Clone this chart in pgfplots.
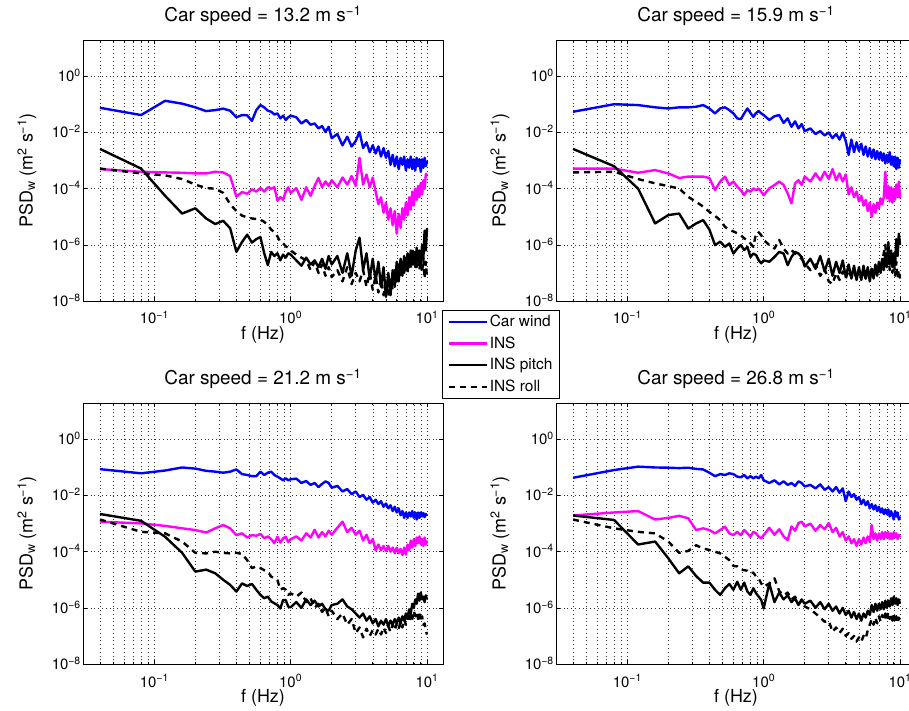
\documentclass[border=0pt]{standalone}
\usepackage{fontspec}
\setmainfont{TeX Gyre Heros}
\usepackage{pgfplots}
\usepackage{pgfplotstable}
\pgfplotsset{compat=1.18}
\definecolor{mblue}{rgb}{0,0,1}
\definecolor{mmag}{rgb}{1,0,1}

\pgfplotstableread{
f w i p r
0.04 7.6e-2 5.0e-4 2.6e-3 5.2e-4
0.08 4.2e-2 4.0e-4 5.2e-4 3.5e-4
0.12 1.35e-1 3.8e-4 5.6e-5 3.0e-4
0.16 1.07e-1 3.7e-4 1.3e-5 2.2e-4
0.20 7.9e-2 3.5e-4 2.0e-5 1.4e-4
0.24 5.8e-2 3.5e-4 8.7e-6 1.05e-4
0.28 6.3e-2 4.0e-4 5.5e-6 1.0e-4
0.32 7.1e-2 3.8e-4 7.2e-6 7.1e-5
0.36 6.0e-2 2.8e-4 3.9e-6 2.8e-5
0.40 3.5e-2 5.2e-5 5.6e-7 1.6e-5
0.44 4.2e-2 7.6e-5 1.26e-6 1.1e-5
0.48 4.1e-2 6.6e-5 2.3e-6 9.5e-6
0.52 2.6e-2 9.5e-5 1.2e-6 8.7e-6
0.56 6.3e-2 7.9e-5 1.6e-6 8.3e-6
0.60 9.5e-2 1.05e-4 1.9e-6 7.9e-6
0.64 7.9e-2 7.9e-5 5.0e-7 6.6e-6
0.68 6.0e-2 1.12e-4 1.9e-7 5.0e-6
0.72 5.5e-2 1.0e-4 5.6e-7 3.5e-6
0.76 4.4e-2 1.12e-4 4.0e-7 2.8e-6
0.80 4.8e-2 3.8e-5 5.0e-7 2.0e-6
0.84 3.2e-2 5.0e-5 2.8e-7 1.26e-6
0.88 4.0e-2 4.0e-5 4.5e-7 1.12e-6
0.92 2.8e-2 7.9e-5 3.5e-7 8.9e-7
0.96 3.5e-2 1.12e-4 5.0e-7 7.9e-7
1.00 4.0e-2 7.1e-5 4.5e-7 6.3e-7
1.1 3.5e-2 1.05e-4 2.8e-7 4.5e-7
1.2 2.1e-2 4.0e-5 1.8e-7 3.5e-7
1.3 2.8e-2 1.12e-4 3.5e-7 2.8e-7
1.4 1.9e-2 5.6e-5 2.0e-7 1.26e-7
1.5 2.1e-2 1.26e-4 2.8e-7 2.5e-7
1.6 1.4e-2 2.4e-4 1.6e-7 1.0e-7
1.7 1.7e-2 1.12e-4 3.2e-7 2.0e-7
1.8 1.05e-2 1.8e-4 1.4e-7 7.9e-8
1.9 1.6e-2 1.26e-4 4.0e-7 1.6e-7
2.0 6.3e-3 2.0e-4 2.0e-7 7.1e-8
2.2 8.9e-3 1.12e-4 4.0e-7 1.26e-7
2.4 3.5e-3 2.5e-4 1.0e-7 5.0e-8
2.6 7.1e-3 1.4e-4 5.0e-7 1.6e-7
2.8 3.2e-3 2.8e-4 7.9e-8 4.0e-8
3.0 5.0e-3 1.26e-4 6.3e-7 1.0e-7
3.2 1.05e-2 1.26e-3 1.8e-6 5.0e-8
3.4 2.8e-3 1.4e-4 1.26e-7 1.26e-7
3.6 4.5e-3 3.2e-4 5.0e-7 3.2e-8
3.8 2.0e-3 1.12e-4 6.3e-8 1.0e-7
4.0 3.5e-3 2.5e-4 3.2e-7 2.5e-8
4.2 1.8e-3 7.9e-5 5.0e-8 7.9e-8
4.4 3.2e-3 2.8e-5 2.5e-7 2.0e-8
4.6 1.4e-3 5.0e-5 3.2e-8 6.3e-8
4.8 2.8e-3 1.4e-5 1.6e-7 1.6e-8
5.0 1.26e-3 3.2e-5 1.4e-8 5.0e-8
5.2 2.2e-3 7.9e-6 1.0e-7 1.4e-8
5.4 7.1e-4 2.0e-5 1.6e-8 6.3e-8
5.6 1.6e-3 5.0e-6 1.26e-7 2.5e-8
5.8 6.3e-4 1.6e-5 3.2e-8 1.26e-7
6.0 1.4e-3 2.5e-6 2.5e-7 4.0e-8
6.2 5.0e-4 1.26e-5 5.0e-8 2.0e-7
6.4 1.26e-3 4.0e-6 3.2e-7 6.3e-8
6.6 7.1e-4 2.0e-5 7.9e-8 2.5e-7
6.8 1.4e-3 7.9e-6 4.0e-7 1.0e-7
7.0 4.5e-4 3.2e-5 1.26e-7 3.2e-7
7.2 1.12e-3 1.12e-5 5.0e-7 1.0e-7
7.4 5.6e-4 5.0e-5 1.6e-7 4.0e-7
7.6 1.4e-3 1.8e-5 6.3e-7 1.26e-7
7.8 5.0e-4 7.9e-5 2.0e-7 7.9e-7
8.0 1.12e-3 2.5e-5 5.0e-7 2.0e-7
8.2 4.5e-4 1.0e-4 1.6e-7 6.3e-7
8.4 1.26e-3 4.0e-5 7.9e-7 1.6e-7
8.6 6.3e-4 1.26e-4 2.5e-7 5.0e-7
8.8 1.12e-3 5.0e-5 6.3e-7 1.26e-7
9.0 4.0e-4 1.6e-4 2.0e-7 4.0e-7
9.2 1.12e-3 6.3e-5 1.0e-6 1.0e-7
9.4 5.6e-4 2.0e-4 3.2e-7 3.2e-7
9.6 1.26e-3 1.0e-4 3.2e-6 6.3e-8
9.8 6.3e-4 3.2e-4 6.3e-7 2.5e-7
10.0 1.0e-3 3.5e-4 4.0e-6 6.3e-8
}\tabTL

\pgfplotstableread{
f w i p r
0.04 5.5e-2 5.2e-4 2.6e-3 3.8e-4
0.08 1.02e-1 5.2e-4 6.3e-4 4.0e-4
0.12 9.5e-2 3.7e-4 1.0e-4 2.2e-4
0.16 7.9e-2 4.6e-4 5.8e-6 1.55e-4
0.20 7.2e-2 3.5e-4 1.15e-5 1.23e-4
0.24 7.9e-2 2.4e-4 1.3e-5 1.02e-4
0.28 7.9e-2 2.7e-4 3.8e-6 5.1e-5
0.32 8.3e-2 2.7e-4 5.8e-6 3.4e-5
0.36 9.5e-2 2.7e-4 7.6e-6 2.3e-5
0.40 7.2e-2 2.4e-4 3.5e-6 1.5e-5
0.44 4.8e-2 8.9e-5 9.8e-7 1.07e-5
0.48 7.2e-2 1.8e-4 1.3e-6 7.6e-6
0.52 7.9e-2 2.7e-4 8.5e-7 4.4e-6
0.56 6.3e-2 1.35e-4 1.12e-6 3.4e-6
0.60 4.8e-2 1.8e-4 4.9e-7 3.0e-6
0.64 3.2e-2 1.17e-4 7.4e-7 2.6e-6
0.68 3.0e-2 8.9e-5 9.8e-7 2.2e-6
0.72 4.8e-2 5.9e-5 6.5e-7 1.7e-6
0.76 7.2e-2 8.9e-5 8.5e-7 1.5e-6
0.80 5.0e-2 7.8e-5 3.7e-7 1.12e-6
0.84 3.6e-2 1.02e-4 4.9e-7 8.5e-7
0.88 5.0e-2 8.9e-5 4.3e-7 2.6e-6
0.92 5.8e-2 1.02e-4 2.8e-7 2.8e-6
0.96 4.8e-2 7.8e-5 2.2e-7 2.2e-6
1.00 4.2e-2 5.9e-5 2.8e-7 1.5e-6
1.1 2.8e-2 1.02e-4 2.5e-7 9.8e-7
1.2 3.8e-2 1.35e-4 3.7e-7 7.4e-7
1.3 4.2e-2 1.8e-4 5.6e-7 1.5e-6
1.4 2.2e-2 1.35e-4 4.9e-7 7.4e-7
1.5 3.2e-2 6.8e-5 1.9e-7 4.9e-7
1.6 1.6e-2 3.0e-5 3.7e-7 6.5e-7
1.7 2.5e-2 1.55e-4 5.6e-7 4.9e-7
1.8 1.4e-2 2.0e-4 4.9e-7 3.7e-7
1.9 2.0e-2 1.35e-4 3.7e-7 3.2e-7
2.0 1.12e-2 2.7e-4 1.7e-7 2.2e-7
2.2 1.4e-2 1.8e-4 3.2e-7 1.26e-7
2.4 8.9e-3 3.5e-4 1.4e-7 2.0e-7
2.6 1.12e-2 2.0e-4 4.0e-7 7.9e-8
2.8 7.9e-3 4.0e-4 1.12e-7 1.4e-7
3.0 1.0e-2 2.2e-4 3.2e-7 5.0e-8
3.2 6.3e-3 5.0e-4 7.9e-8 4.0e-8
3.4 8.9e-3 2.0e-4 2.5e-7 1.0e-7
3.6 5.6e-3 3.5e-4 1.0e-7 5.6e-8
3.8 1.0e-2 1.8e-4 2.8e-7 1.12e-7
4.0 5.0e-3 3.2e-4 7.1e-8 6.3e-8
4.2 1.6e-3 6.3e-5 2.0e-7 1.26e-7
4.4 5.6e-3 1.12e-4 6.3e-8 7.1e-8
4.6 2.0e-3 5.0e-5 1.8e-7 1.12e-7
4.8 4.5e-3 7.9e-5 5.6e-8 6.3e-8
5.0 2.2e-3 3.5e-5 1.6e-7 1.26e-7
5.2 4.0e-3 5.6e-5 5.6e-8 7.1e-8
5.4 1.6e-3 2.5e-5 1.8e-7 1.12e-7
5.6 3.2e-3 4.0e-5 6.3e-8 6.3e-8
5.8 1.4e-3 1.6e-5 1.6e-7 1.26e-7
6.0 2.8e-3 3.2e-5 5.0e-8 7.9e-8
6.2 1.26e-3 1.0e-5 1.4e-7 1.4e-7
6.4 2.5e-3 2.8e-5 6.3e-8 8.9e-8
6.6 1.12e-3 1.4e-5 2.0e-7 1.6e-7
6.8 2.2e-3 3.2e-5 7.9e-8 1.0e-7
7.0 1.12e-3 2.0e-5 2.5e-7 2.0e-7
7.2 2.0e-3 4.5e-5 1.0e-7 1.12e-7
7.4 1.0e-3 2.8e-5 3.2e-7 2.5e-7
7.6 1.8e-3 5.0e-5 1.26e-7 5.0e-7
7.8 7.9e-4 4.0e-4 5.0e-7 1.0e-6
8.0 1.6e-3 4.5e-5 1.6e-7 2.5e-7
8.2 8.9e-4 1.26e-4 1.26e-6 6.3e-7
8.4 2.0e-3 3.5e-5 2.0e-7 1.26e-7
8.6 7.1e-4 1.12e-4 6.3e-7 4.0e-7
8.8 1.4e-3 3.2e-5 1.6e-7 1.0e-7
9.0 6.3e-4 1.0e-4 5.0e-7 3.2e-7
9.2 1.4e-3 4.0e-5 2.0e-7 7.9e-8
9.4 5.0e-4 1.4e-4 1.6e-6 2.5e-7
9.6 1.26e-3 5.0e-5 4.0e-7 6.3e-8
9.8 5.6e-4 1.8e-4 2.5e-6 1.26e-7
10.0 1.12e-3 4.5e-5 1.0e-6 6.3e-8
}\tabTR

\pgfplotstableread{
f w i p r
0.04 8.7e-2 1.17e-3 2.2e-3 1.4e-3
0.08 6.2e-2 1.02e-3 1.26e-3 5.1e-4
0.12 7.8e-2 8.3e-4 3.4e-4 4.5e-4
0.16 1.0e-1 6.8e-4 9.1e-5 2.3e-4
0.20 9.1e-2 5.9e-4 1.95e-5 9.1e-5
0.24 7.6e-2 4.8e-4 2.3e-5 8.7e-5
0.28 7.1e-2 6.8e-4 1.7e-5 1.0e-4
0.32 6.5e-2 8.9e-4 1.0e-5 9.1e-5
0.36 7.1e-2 6.8e-4 6.6e-6 8.7e-5
0.40 8.5e-2 3.9e-4 3.8e-6 9.1e-5
0.44 5.8e-2 4.5e-4 7.4e-6 8.3e-5
0.48 5.4e-2 3.2e-4 6.0e-6 5.0e-5
0.52 4.9e-2 3.9e-4 7.1e-6 2.6e-5
0.56 4.9e-2 3.7e-4 4.4e-6 3.0e-5
0.60 7.1e-2 4.3e-4 2.9e-6 2.6e-5
0.64 5.4e-2 3.0e-4 2.2e-6 2.2e-5
0.68 6.5e-2 3.5e-4 2.5e-6 1.95e-5
0.72 7.1e-2 2.8e-4 1.7e-6 1.3e-5
0.76 5.4e-2 2.0e-4 1.45e-6 1.12e-5
0.80 4.7e-2 3.4e-4 1.26e-6 9.8e-6
0.84 4.1e-2 2.1e-4 9.5e-7 4.4e-6
0.88 3.5e-2 3.0e-4 1.9e-6 5.0e-6
0.92 4.1e-2 3.4e-4 1.9e-6 4.4e-6
0.96 3.5e-2 2.2e-4 1.1e-6 2.9e-6
1.00 3.8e-2 2.8e-4 1.05e-6 3.3e-6
1.1 4.0e-2 3.5e-4 1.6e-6 2.5e-6
1.2 2.8e-2 2.5e-4 1.0e-6 3.5e-6
1.3 3.3e-2 4.5e-4 2.0e-6 1.6e-6
1.4 2.4e-2 3.2e-4 1.26e-6 2.2e-6
1.5 2.8e-2 6.0e-4 1.8e-6 1.0e-6
1.6 2.0e-2 3.2e-4 1.12e-6 1.4e-6
1.7 2.6e-2 5.0e-4 1.4e-6 7.1e-7
1.8 3.2e-2 3.5e-4 8.9e-7 1.0e-6
1.9 2.8e-2 5.6e-4 7.9e-7 5.0e-7
2.0 1.9e-2 4.0e-4 1.26e-6 7.9e-7
2.2 2.2e-2 7.1e-4 1.4e-6 4.0e-7
2.4 1.4e-2 1.17e-3 2.0e-6 6.3e-7
2.6 1.7e-2 5.0e-4 1.12e-6 2.5e-7
2.8 1.12e-2 7.1e-4 8.9e-7 4.0e-7
3.0 1.4e-2 4.0e-4 6.3e-7 1.26e-7
3.2 8.9e-3 5.6e-4 4.5e-7 2.0e-7
3.4 1.05e-2 2.5e-4 6.3e-7 8.9e-8
3.6 7.1e-3 4.0e-4 3.5e-7 1.8e-7
3.8 8.9e-3 2.0e-4 5.0e-7 1.0e-7
4.0 5.6e-3 2.8e-4 2.8e-7 1.6e-7
4.2 7.1e-3 1.12e-4 4.0e-7 1.12e-7
4.4 5.0e-3 1.8e-4 2.2e-7 1.8e-7
4.6 6.3e-3 1.12e-4 3.5e-7 1.12e-7
4.8 4.0e-3 1.6e-4 2.5e-7 2.0e-7
5.0 5.2e-3 1.05e-4 4.0e-7 1.26e-7
5.2 3.5e-3 1.6e-4 2.2e-7 2.2e-7
5.4 4.5e-3 1.0e-4 3.5e-7 1.4e-7
5.6 2.8e-3 1.4e-4 2.5e-7 2.5e-7
5.8 4.0e-3 8.9e-5 4.0e-7 1.6e-7
6.0 2.5e-3 1.4e-4 2.8e-7 2.8e-7
6.2 3.5e-3 8.9e-5 4.5e-7 1.8e-7
6.4 2.0e-3 1.26e-4 2.8e-7 3.2e-7
6.6 2.8e-3 7.6e-5 5.0e-7 2.0e-7
6.8 1.6e-3 1.4e-4 3.5e-7 4.0e-7
7.0 2.5e-3 7.9e-5 6.3e-7 2.5e-7
7.2 1.6e-3 1.8e-4 4.5e-7 5.0e-7
7.4 2.5e-3 1.12e-4 8.9e-7 3.2e-7
7.6 1.8e-3 2.5e-4 6.3e-7 6.3e-7
7.8 2.8e-3 1.4e-4 1.4e-6 4.0e-7
8.0 1.6e-3 2.8e-4 1.0e-6 7.9e-7
8.2 2.5e-3 1.6e-4 2.0e-6 5.0e-7
8.4 1.4e-3 3.2e-4 1.4e-6 7.1e-7
8.6 2.5e-3 2.0e-4 3.2e-6 4.0e-7
8.8 1.6e-3 3.5e-4 1.8e-6 6.3e-7
9.0 2.5e-3 1.8e-4 3.5e-6 3.2e-7
9.2 1.8e-3 2.8e-4 2.0e-6 5.0e-7
9.4 2.4e-3 1.6e-4 2.5e-6 2.5e-7
9.6 1.7e-3 3.2e-4 1.6e-6 2.8e-7
9.8 2.2e-3 1.8e-4 2.8e-6 1.6e-7
10.0 1.9e-3 2.5e-4 2.0e-6 1.12e-7
}\tabBL

\pgfplotstableread{
f w i p r
0.04 4.3e-2 1.95e-3 1.95e-3 1.4e-3
0.08 8.1e-2 2.5e-3 1.35e-3 6.8e-4
0.12 1.07e-1 2.8e-3 1.8e-4 5.1e-4
0.16 1.0e-1 1.4e-3 2.3e-4 4.5e-4
0.20 9.8e-2 1.6e-3 5.8e-5 2.3e-4
0.24 9.5e-2 1.9e-3 1.7e-5 9.1e-5
0.28 9.8e-2 1.55e-3 3.0e-5 1.07e-4
0.32 8.9e-2 5.9e-4 1.35e-5 1.7e-4
0.36 8.5e-2 6.8e-4 7.9e-6 1.3e-4
0.40 6.5e-2 5.9e-4 7.9e-6 1.15e-4
0.44 4.9e-2 4.5e-4 4.4e-6 1.0e-4
0.48 5.8e-2 5.9e-4 2.9e-6 8.7e-5
0.52 5.4e-2 7.8e-4 5.0e-6 6.6e-5
0.56 6.2e-2 4.5e-4 7.1e-6 5.0e-5
0.60 5.8e-2 3.9e-4 4.4e-6 3.1e-5
0.64 4.7e-2 5.1e-4 8.5e-6 3.0e-5
0.68 4.5e-2 3.9e-4 4.4e-6 2.3e-5
0.72 5.4e-2 5.9e-4 7.9e-6 2.2e-5
0.76 4.1e-2 4.5e-4 3.8e-6 2.1e-5
0.80 4.9e-2 3.4e-4 2.9e-6 1.7e-5
0.84 4.1e-2 5.1e-4 5.0e-6 1.8e-5
0.88 4.7e-2 4.5e-4 3.3e-6 1.3e-5
0.92 4.1e-2 3.4e-4 2.5e-6 1.12e-5
0.96 5.4e-2 3.0e-4 1.9e-6 7.4e-6
1.00 3.5e-2 3.9e-4 9.5e-7 5.6e-6
1.1 2.8e-2 7.1e-4 7.4e-6 7.4e-6
1.2 3.5e-2 4.0e-4 1.6e-6 1.12e-5
1.3 2.5e-2 6.3e-4 3.5e-6 4.0e-6
1.4 3.2e-2 3.5e-4 2.0e-6 2.8e-6
1.5 2.4e-2 2.6e-4 2.8e-6 3.5e-6
1.6 2.8e-2 7.9e-4 1.6e-6 2.0e-6
1.7 2.2e-2 5.6e-4 2.2e-6 2.5e-6
1.8 3.2e-2 1.05e-3 1.26e-6 1.4e-6
1.9 2.8e-2 1.17e-3 2.0e-6 1.8e-6
2.0 2.1e-2 7.9e-4 1.4e-6 1.12e-6
2.2 2.4e-2 1.0e-3 1.8e-6 8.9e-7
2.4 1.8e-2 5.6e-4 1.0e-6 6.3e-7
2.6 2.5e-2 8.9e-4 1.6e-6 4.5e-7
2.8 1.6e-2 6.3e-4 8.9e-7 3.2e-7
3.0 2.0e-2 1.05e-3 1.4e-6 3.5e-7
3.2 1.4e-2 5.0e-4 7.9e-7 1.4e-7
3.4 2.0e-2 7.1e-4 1.12e-6 2.0e-7
3.6 1.26e-2 3.5e-4 6.3e-7 1.26e-7
3.8 1.8e-2 5.0e-4 1.0e-6 1.8e-7
4.0 6.3e-3 2.5e-4 5.6e-7 1.0e-7
4.2 1.4e-2 3.5e-4 7.9e-7 1.26e-7
4.4 8.9e-3 2.0e-4 4.5e-7 7.9e-8
4.6 1.12e-2 2.8e-4 7.1e-7 1.0e-7
4.8 7.1e-3 1.6e-4 4.0e-7 6.3e-8
5.0 8.9e-3 2.8e-4 6.3e-7 8.9e-8
5.2 5.0e-3 1.8e-4 3.5e-7 6.3e-8
5.4 7.1e-3 3.2e-4 6.3e-7 1.0e-7
5.6 4.5e-3 2.0e-4 4.5e-7 7.9e-8
5.8 6.3e-3 3.5e-4 7.9e-7 1.6e-7
6.0 3.5e-3 2.2e-4 5.6e-7 2.5e-7
6.2 5.0e-3 8.9e-4 1.26e-6 4.0e-7
6.4 3.2e-3 2.8e-4 7.1e-7 2.5e-7
6.6 4.5e-3 4.5e-4 1.4e-6 4.5e-7
6.8 2.8e-3 2.5e-4 7.9e-7 2.8e-7
7.0 4.0e-3 4.5e-4 1.4e-6 5.0e-7
7.2 2.5e-3 2.8e-4 8.9e-7 3.2e-7
7.4 3.5e-3 5.0e-4 1.6e-6 5.6e-7
7.6 2.2e-3 2.8e-4 8.9e-7 3.5e-7
7.8 3.2e-3 5.0e-4 1.8e-6 6.3e-7
8.0 2.2e-3 3.2e-4 1.0e-6 4.0e-7
8.2 3.2e-3 5.0e-4 1.8e-6 7.1e-7
8.4 1.8e-3 2.8e-4 1.12e-6 4.0e-7
8.6 2.8e-3 4.5e-4 2.2e-6 6.3e-7
8.8 2.0e-3 2.8e-4 1.26e-6 3.5e-7
9.0 1.4e-3 5.0e-4 2.5e-6 5.6e-7
9.2 2.8e-3 3.2e-4 1.4e-6 3.2e-7
9.4 1.8e-3 4.5e-4 2.2e-6 5.0e-7
9.6 2.5e-3 2.8e-4 1.26e-6 2.8e-7
9.8 1.4e-3 4.0e-4 2.0e-6 4.5e-7
10.0 1.8e-3 3.2e-4 1.4e-6 2.5e-7
}\tabBR

\tikzset{
  psdwind/.style={color=mblue, solid, line width=2.4bp, line join=round},
  psdins/.style={color=mmag, solid, line width=2.4bp, line join=round},
  psdpitch/.style={color=black, solid, line width=2.4bp, line join=round},
  psdroll/.style={color=black, dash pattern=on 6bp off 5bp, line width=2.4bp, line join=round},
}
\pgfplotsset{legend image code/.code={\draw[#1] (0bp,0bp) -- (38bp,0bp);}}

% #1 x, #2 y (bp, north west corner), #3 speed, #4 table, #5 extra axis options, #6 extra body
\newcommand{\psdaxis}[6]{%
\begin{axis}[
    at={(#1bp,#2bp)}, anchor=north west,
    scale only axis, width=360bp, height=261bp,
    xmode=log, ymode=log,
    xmin=0.03, xmax=13.1, ymin=1e-8, ymax=19.8,
    xtick={0.1,1,10},
    xticklabels={10\textsuperscript{−1},10\textsuperscript{0},10\textsuperscript{1}},
    minor xtick={0.04,0.05,0.06,0.07,0.08,0.09,0.2,0.3,0.4,0.5,0.6,0.7,0.8,0.9,2,3,4,5,6,7,8,9},
    ytick={1e-8,1e-6,1e-4,1e-2,1},
    yticklabels={10\textsuperscript{−8},10\textsuperscript{−6},10\textsuperscript{−4},10\textsuperscript{−2},10\textsuperscript{0}},
    yminorticks=false,
    xmajorgrids, xminorgrids, ymajorgrids,
    grid style={black!80, line width=0.5bp, dash pattern=on 0.8bp off 3bp},
    tick align=inside,
    major tick length=3.6bp, minor tick length=2.2bp,
    tick style={black, line width=0.6bp},
    axis line style={black, line width=0.9bp},
    xticklabel style={font=\fontsize{15}{18}\selectfont, anchor=base, yshift=-23bp},
    yticklabel style={font=\fontsize{15}{18}\selectfont, anchor=base east, yshift=-5.4bp, inner xsep=2bp},
    xlabel={f (Hz)},
    ylabel={PSD\textsubscript{w} (m\textsuperscript{2} s\textsuperscript{−1})},
    xlabel style={font=\fontsize{18}{21}\selectfont, at={(axis description cs:0.5,-0.130)}, anchor=center},
    ylabel style={font=\fontsize{18}{21}\selectfont, at={(axis description cs:-0.156,0.5)}, anchor=center},
    title={Car speed = #3 m s\textsuperscript{−1}},
    title style={font=\fontsize{19}{22}\selectfont, at={(axis description cs:0.5,1.0487)}, anchor=base},
    #5
  ]
\addplot[psdwind] table[x=f,y=w]{#4};
\addplot[psdins] table[x=f,y=i]{#4};
\addplot[psdpitch] table[x=f,y=p]{#4};
\addplot[psdroll] table[x=f,y=r]{#4};
#6
\end{axis}}

\begin{document}
\begin{tikzpicture}[x=1bp,y=1bp]
\useasboundingbox (0,0) rectangle (909,711);
\clip (0,0) rectangle (909,711);
\psdaxis{83}{671}{13.2}{\tabTL}{}{}
\psdaxis{556}{671}{15.9}{\tabTR}{}{}
\psdaxis{83}{308}{21.2}{\tabBL}{}{}
\psdaxis{556}{308}{26.8}{\tabBR}{legend cell align=left,
    legend style={at={(-0.3167,1.3563)}, anchor=north west, draw=black, line width=0.8bp,
      fill=white, font=\fontsize{15.5}{18}\selectfont, inner xsep=5bp, inner ysep=3bp,
      nodes={inner sep=2bp, text depth=0.2em}, row sep=4bp}}{\legend{Car wind, INS, INS pitch, INS roll}}
\end{tikzpicture}
\end{document}
